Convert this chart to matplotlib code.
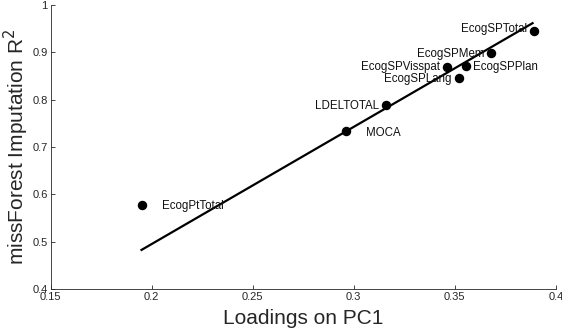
import matplotlib.pyplot as plt
import numpy as np

plt.rcParams['font.family'] = ['Liberation Sans', 'DejaVu Sans']

names = ["EcogPtTotal", "MOCA", "LDELTOTAL", "EcogSPLang", "EcogSPVisspat",
         "EcogSPPlan", "EcogSPMem", "EcogSPTotal"]
loadings = [0.195, 0.296, 0.316, 0.352, 0.346, 0.3556, 0.368, 0.389]
r2 = [0.578, 0.733, 0.788, 0.846, 0.870, 0.871, 0.898, 0.945]
# label offsets in points (dx, dy) and alignment
offsets = [(15, -1), (15, -1), (-5, -0.5), (-5, -0.5), (-5, -0.5),
           (5, -0.5), (-5, -0.5), (-5, 1.5)]

# fitted line end points
fit_x = [0.195, 0.3885]
fit_y = [0.4825, 0.9617]

fig = plt.figure(figsize=(5.62, 3.36), dpi=100)
ax = fig.add_axes([0.090, 0.140, 0.899, 0.845])

ax.plot(fit_x, fit_y, color='black', lw=1.6, zorder=2)
ax.plot(loadings, r2, 'o', color='black', ms=5.8, zorder=3)

for n, x, y, (dx, dy) in zip(names, loadings, r2, offsets):
    ax.annotate(n, (x, y), xytext=(dx, dy), textcoords='offset points',
                ha='left' if dx > 0 else 'right', va='center',
                fontsize=8.3, color='#111111')

ax.set_xlim(0.15, 0.4)
ax.set_ylim(0.4, 1.0)
ax.set_xticks([0.15, 0.2, 0.25, 0.3, 0.35, 0.4])
ax.set_xticklabels(["0.15", "0.2", "0.25", "0.3", "0.35", "0.4"])
ax.set_yticks([0.4, 0.5, 0.6, 0.7, 0.8, 0.9, 1.0])
ax.set_yticklabels(["0.4", "0.5", "0.6", "0.7", "0.8", "0.9", "1"])

for sp in ['top', 'right']:
    ax.spines[sp].set_visible(False)
for sp in ['left', 'bottom']:
    ax.spines[sp].set_color('#262626')
    ax.spines[sp].set_linewidth(0.6)
ax.tick_params(direction='in', length=3, width=0.6, colors='#262626',
               labelsize=8, pad=2)

ax.set_xlabel("Loadings on PC1", fontsize=15, color='#262626', labelpad=5)
ax.set_ylabel("missForest Imputation R$^2$", fontsize=15, color='#262626', labelpad=1)

fig.savefig("out.png", dpi=100)
